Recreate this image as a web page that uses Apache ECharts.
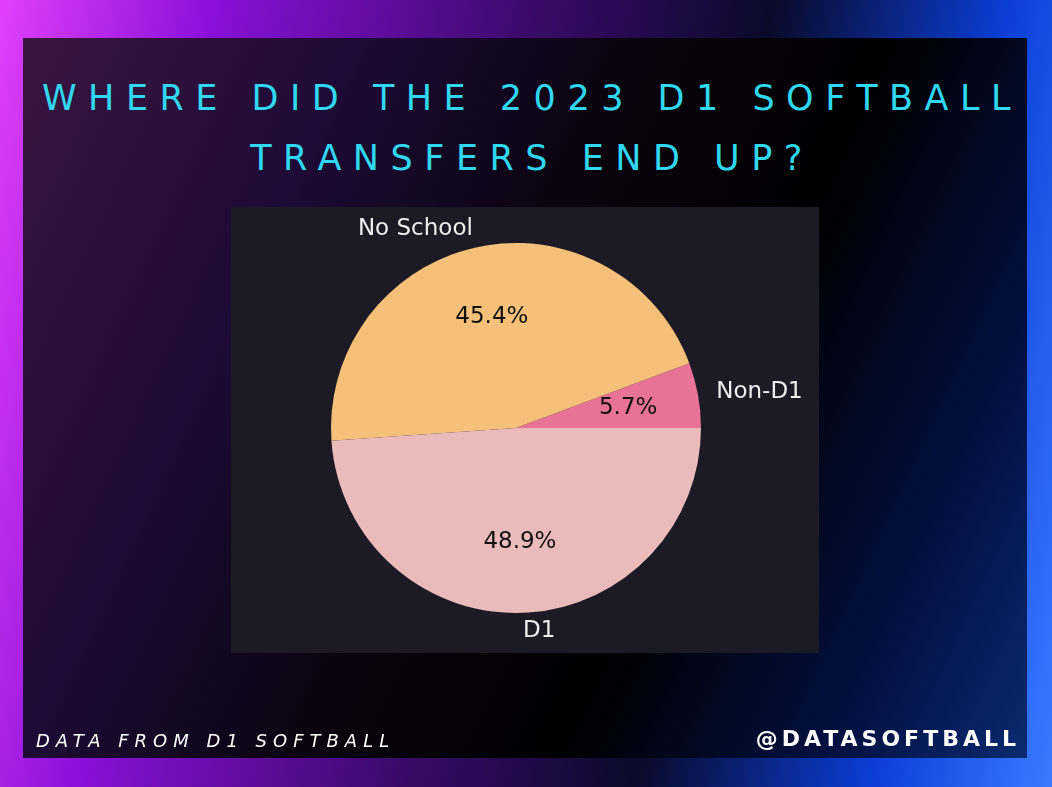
<!DOCTYPE html>
<html>
<head>
<meta charset="utf-8">
<script src="https://cdn.jsdelivr.net/npm/echarts@6/dist/echarts.min.js"></script>
<style>
	html, body { margin: 0; padding: 0; }
	#page {
		position: relative; width: 1052px; height: 787px; overflow: hidden;
		background: linear-gradient(100deg, #e040fb 0%, #8a10d8 18%, #3a0a6a 45%, #0a0a2a 65%, #0b3fd8 85%, #3a7bff 100%);
	}
	#inner {
		position: absolute; left: 23px; top: 38px; width: 1004px; height: 720px;
		background: linear-gradient(115deg, #3a1640 0%, #1e0a36 25%, #0a0410 45%, #000000 65%, #031040 85%, #0a2a70 100%);
	}
	#title {
		position: absolute; left: -100px; width: 1264px; top: 68px; text-align: center;
		white-space: nowrap;
		color: #2fd8f0; font-family: "DejaVu Sans", sans-serif; font-size: 35px;
		letter-spacing: 11.5px; line-height: 60px;
	}
	#src {
		position: absolute; left: 36px; top: 730px; color: #ffffff; white-space: nowrap;
		font-family: "DejaVu Sans", sans-serif; font-style: italic; font-size: 18px; letter-spacing: 6px;
	}
	#handle {
		position: absolute; right: 32px; top: 726px; color: #ffffff; white-space: nowrap;
		font-family: "DejaVu Sans", sans-serif; font-weight: bold; font-size: 22px; letter-spacing: 4px;
	}
	#chart { position: absolute; left: 0; top: 0; width: 1052px; height: 787px; }
</style>
</head>
<body>
<div id="page">
	<div id="inner"></div>
	<div id="title">WHERE DID THE 2023 D1 SOFTBALL<br>TRANSFERS END UP?</div>
	<div id="chart"></div>
	<div id="src">DATA FROM D1 SOFTBALL</div>
	<div id="handle">@DATASOFTBALL</div>
</div>
<script>
var categories = ['Non-D1', 'No School', 'D1'];
var shares = [5.7, 45.4, 48.9];
var sliceColors = ['#e87396', '#f5c07a', '#ebbaba'];

var R = 185;
var pieData = [];
var ghostData = [];
for (var i = 0; i < categories.length; i++) {
	pieData.push({ name : categories[i], value : shares[i], itemStyle : { color : sliceColors[i] } });
	ghostData.push({ name : categories[i], value : shares[i], itemStyle : { color : 'rgba(0,0,0,0)' } });
}

var myChart = echarts.init(document.getElementById('chart'));
var option = {
	backgroundColor : 'transparent',
	animation : false,
	graphic : [ {
		type : 'rect', z : -10,
		shape : { x : 231, y : 207, width : 588, height : 446 },
		style : { fill : '#1c1a24' }
	} ],
	series : [ {
		type : 'pie', center : [516, 428], radius : [0, R],
		startAngle : 0, clockwise : false, silent : true,
		label : { show : false }, labelLine : { show : false },
		data : pieData
	}, {
		type : 'pie', center : [516, 428], radius : [0.2 * R, R],
		startAngle : 0, clockwise : false, silent : true, z : 5,
		label : {
			show : true, position : 'inside', color : '#111111', fontSize : 23,
			fontFamily : 'DejaVu Sans',
			formatter : function(p) { return p.value.toFixed(1) + '%'; }
		},
		labelLine : { show : false },
		data : ghostData
	}, {
		type : 'pie', center : [516, 428], radius : [0, 1.1 * R],
		startAngle : 0, clockwise : false, silent : true, z : 5,
		avoidLabelOverlap : false,
		label : {
			show : true, position : 'outside', color : '#eeeeee', fontSize : 23,
			fontFamily : 'DejaVu Sans', formatter : '{b}', distanceToLabelLine : 0
		},
		labelLine : { show : false, length : 0, length2 : 0 },
		data : ghostData
	} ]
};
myChart.setOption(option);
</script>
</body>
</html>
